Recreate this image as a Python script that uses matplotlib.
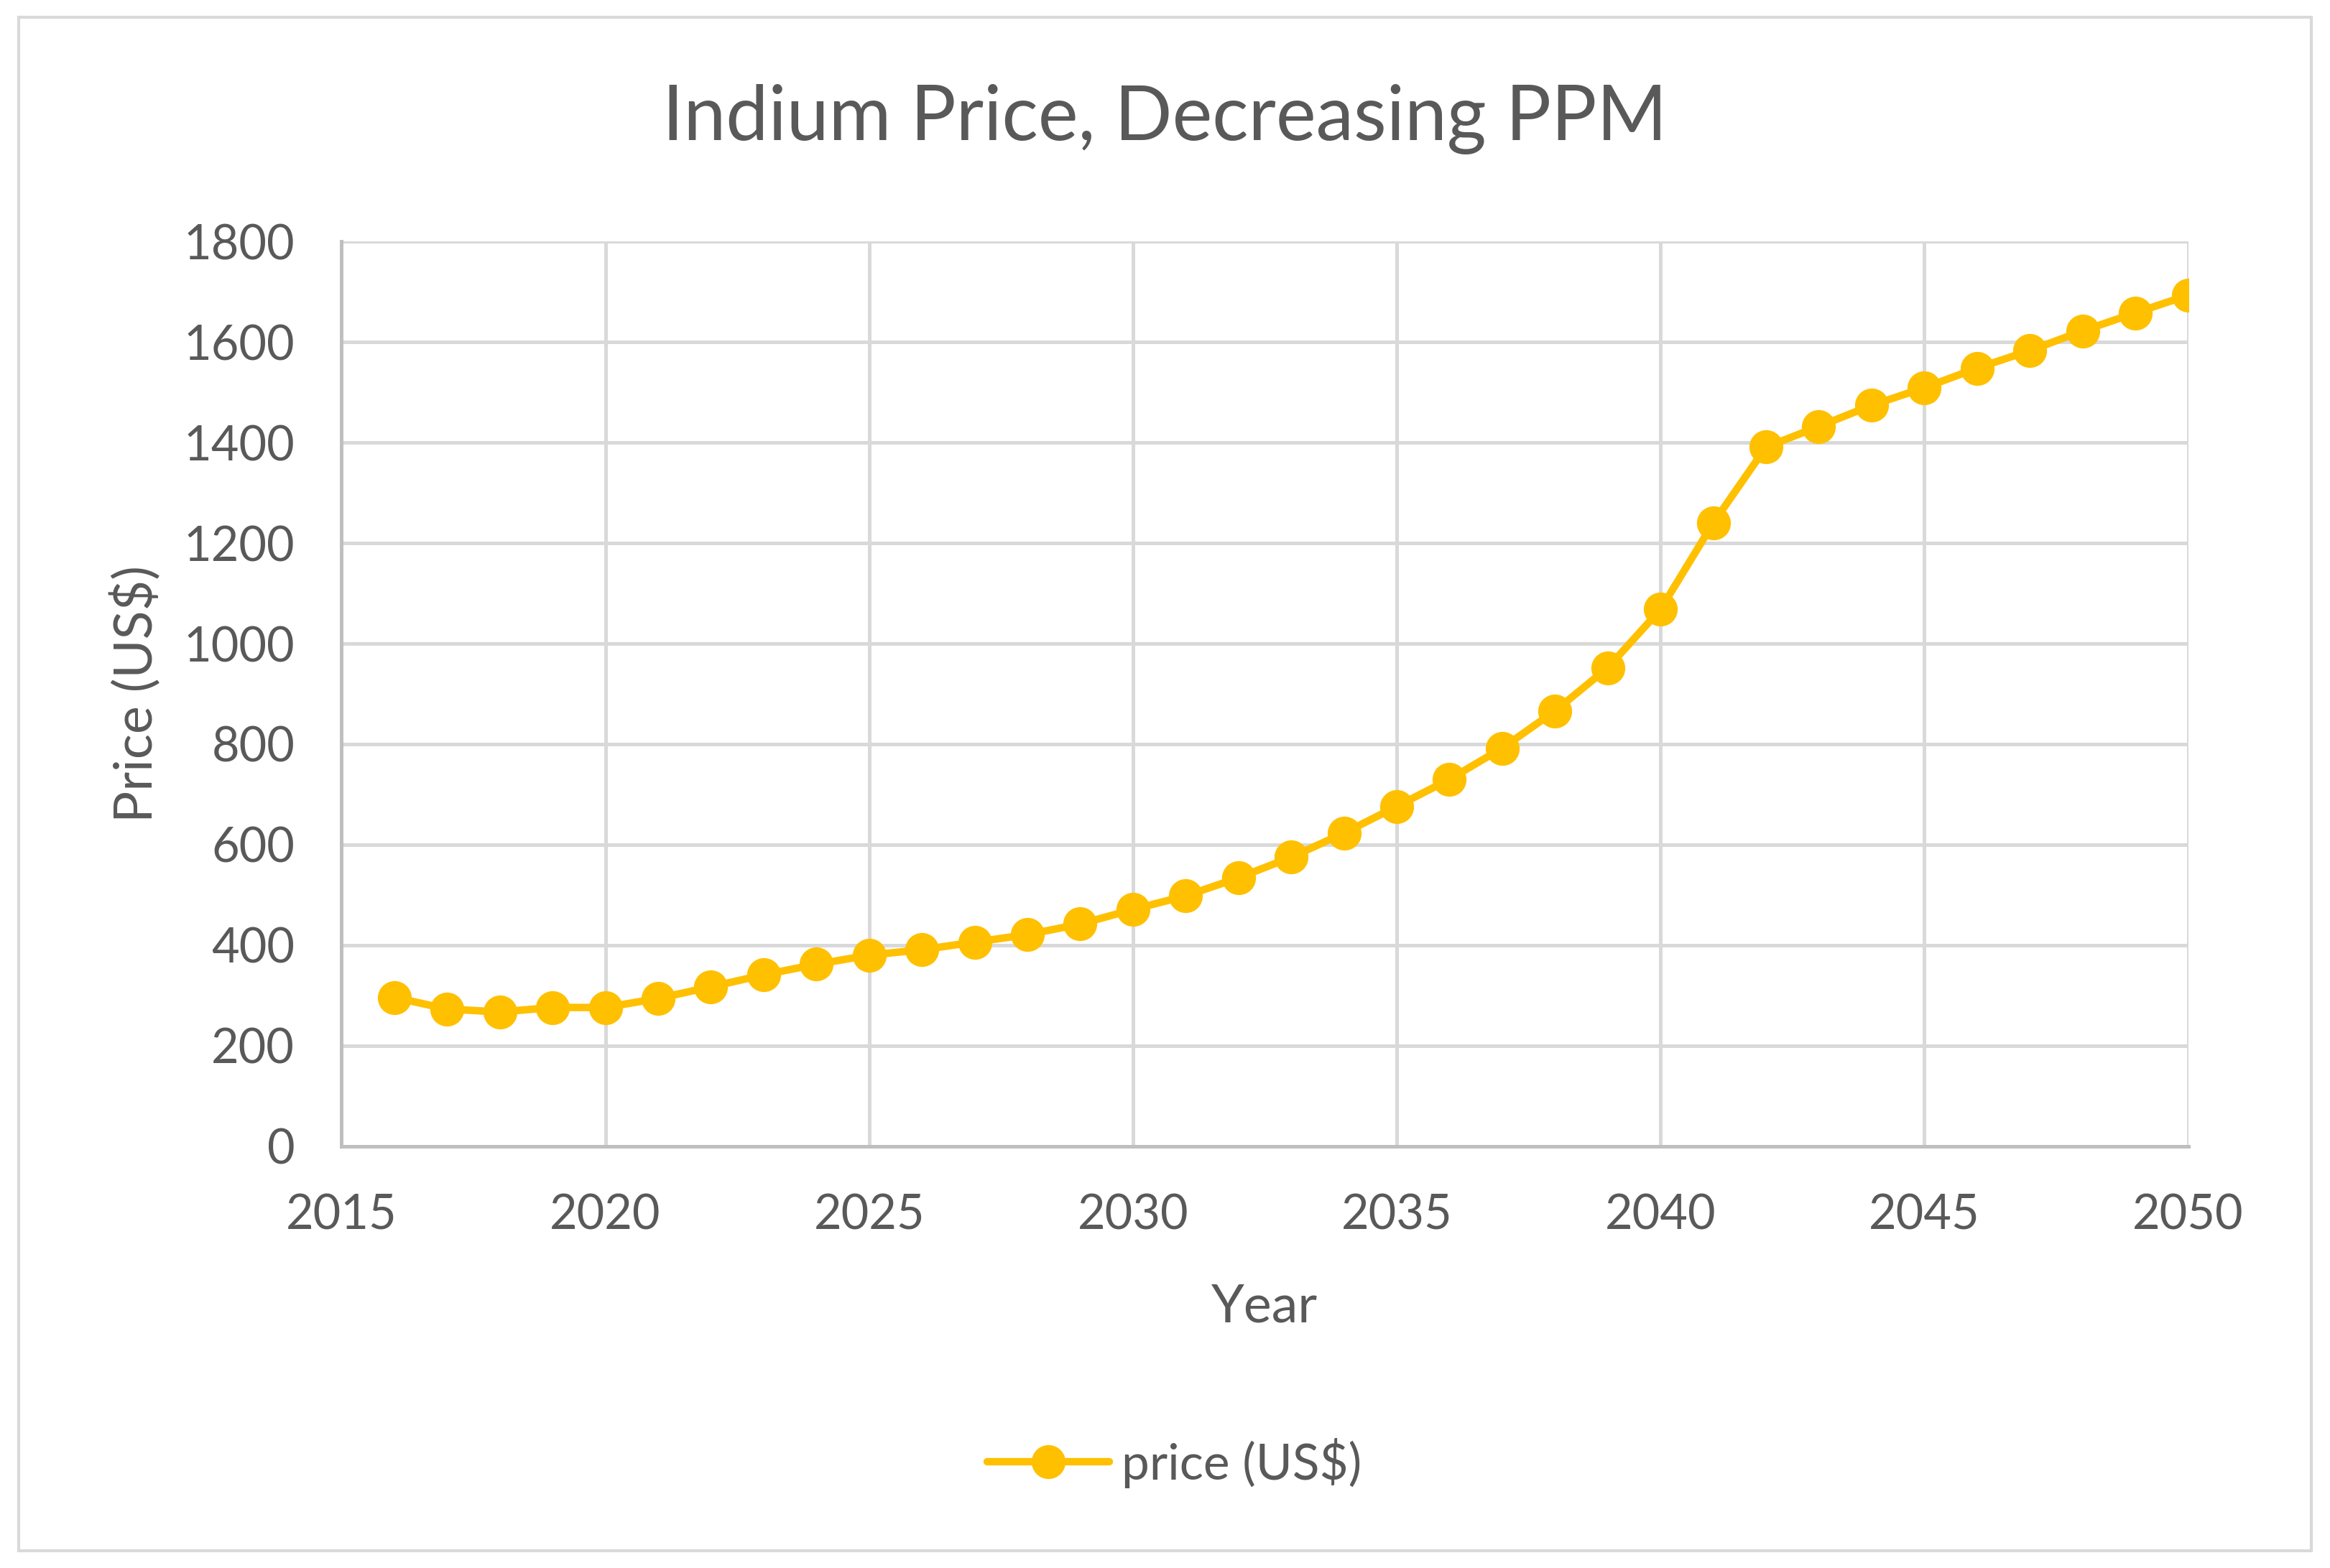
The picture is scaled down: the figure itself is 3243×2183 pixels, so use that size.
import matplotlib.pyplot as plt
from matplotlib.patches import Rectangle

plt.rcParams["font.family"] = ["Lato", "DejaVu Sans"]

years = list(range(2016, 2051))
price = [296, 273, 267, 276, 276, 294, 317, 341, 362, 380,
         391, 406, 421, 442, 471, 498, 534, 575, 623, 676,
         730, 792, 866, 952, 1068, 1240, 1391, 1432, 1474, 1509,
         1548, 1583, 1622, 1658, 1693]

txt = "#595959"
grid = "#d9d9d9"

fig = plt.figure(figsize=(32.43, 21.83), dpi=100)
ax = fig.add_axes([0.1466, 0.269, 0.7925, 0.577])

ax.plot(years, price, color="#FFC000", lw=7.5, marker="o", ms=33,
        label="price (US$)", solid_capstyle="round", zorder=3)

ax.set_xlim(2015, 2050)
ax.set_ylim(0, 1800)
ax.set_xticks(range(2015, 2051, 5))
ax.set_yticks(range(0, 1801, 200))
ax.grid(True, color=grid, lw=3.6)
ax.set_axisbelow(True)
for s in ["top", "right"]:
    ax.spines[s].set_visible(False)
for s in ["left", "bottom"]:
    ax.spines[s].set_color("#bfbfbf")
    ax.spines[s].set_linewidth(3.6)
ax.tick_params(length=0, labelsize=48, colors=txt, pad=47)

fig.text(0.5, 0.924, "Indium Price, Decreasing PPM", fontsize=76, color=txt,
         ha="center", va="center")
ax.set_xlabel("Year", fontsize=53, color=txt, labelpad=46)
ax.set_ylabel("Price (US$)", fontsize=53, color=txt, labelpad=22)

fig.legend(loc="center", bbox_to_anchor=(0.504, 0.067), frameon=False,
           fontsize=50, labelcolor=txt, handlelength=2.45, handletextpad=0.25)

fig.patches.append(Rectangle((0.008, 0.011), 0.984, 0.978, transform=fig.transFigure,
                             fill=False, edgecolor="#d9d9d9", lw=3))

fig.savefig("out.png", dpi=100)
